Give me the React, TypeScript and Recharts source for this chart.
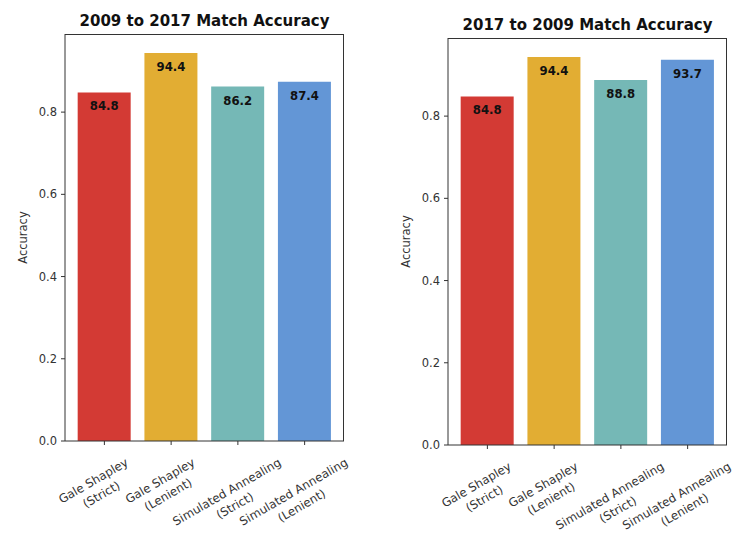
import { Bar, BarChart, Cell, LabelList, XAxis, YAxis } from "recharts";

const methods = [
  "Gale Shapley\n(Strict)",
  "Gale Shapley\n(Lenient)",
  "Simulated Annealing\n(Strict)",
  "Simulated Annealing\n(Lenient)",
];
const forward = [0.848, 0.944, 0.862, 0.874];
const backward = [0.848, 0.944, 0.888, 0.937];
const colors = ["#d33a34", "#e2ad33", "#75b8b6", "#6396d6"];
const yTicks = [0, 0.2, 0.4, 0.6, 0.8];

const FONT = "DejaVu Sans, sans-serif";
const AXIS = "#333";

// rotated, two-line category label, placed like matplotlib's rotation=30
function XTick(props: any) {
  const { x, y, payload } = props;
  const lines: string[] = String(payload.value).split("\n");
  const w = Math.max(...lines.map((l) => l.length)) * 6.3;
  const lh = 16;
  const h = lh * lines.length;
  const cy = y + 8 + 0.25 * w + 0.433 * h;
  return (
    <g transform={`translate(${x - 7},${cy}) rotate(-30)`}>
      {lines.map((l, i) => (
        <text
          key={i}
          x={0}
          y={(i - (lines.length - 1) / 2) * lh}
          textAnchor="middle"
          dominantBaseline="central"
          fontSize={11.8}
          fontFamily={FONT}
          fill={AXIS}
        >
          {l}
        </text>
      ))}
    </g>
  );
}

function YLabel(props: any) {
  const { viewBox } = props;
  const cx = viewBox.x + viewBox.width - 42;
  const cy = viewBox.y + viewBox.height / 2;
  return (
    <text
      x={cx}
      y={cy}
      transform={`rotate(-90,${cx},${cy})`}
      textAnchor="middle"
      dominantBaseline="central"
      fontSize={11.5}
      fontFamily={FONT}
      fill={AXIS}
    >
      Accuracy
    </text>
  );
}

function ValueLabel(props: any) {
  const { x, y, width, value } = props;
  return (
    <text
      x={x + width / 2}
      y={y + 14}
      textAnchor="middle"
      dominantBaseline="central"
      fontSize={11.7}
      fontWeight="bold"
      fontFamily={FONT}
      fill="#111"
    >
      {(value * 100).toFixed(1)}
    </text>
  );
}

function Panel({
  title,
  values,
  left,
  width,
  top,
  yWidth,
  right,
  bottom,
}: {
  title: string;
  values: number[];
  left: number;
  width: number;
  top: number;
  yWidth: number;
  right: number;
  bottom: number;
}) {
  const data = methods.map((m, i) => ({ name: m, v: values[i] }));
  const plotW = width - yWidth - right;
  const plotH = 550 - top - bottom;
  return (
    <div style={{ position: "absolute", left, top: 0, width, height: 550 }}>
      <div
        style={{
          position: "absolute",
          left: yWidth,
          width: plotW,
          top: top - 22,
          textAlign: "center",
          fontFamily: FONT,
          fontWeight: "bold",
          fontSize: 15,
          color: "#111",
          whiteSpace: "nowrap",
        }}
      >
        {title}
      </div>
      <BarChart
        width={width}
        height={550}
        data={data}
        margin={{ top, right, left: 0, bottom: bottom - 90 }}
        barCategoryGap="10%"
      >
        <XAxis
          dataKey="name"
          interval={0}
          height={90}
          padding={{ left: 6, right: 6 }}
          tick={<XTick />}
          tickSize={4}
          stroke={AXIS}
        />
        <YAxis
          width={yWidth}
          domain={[0, 0.99]}
          ticks={yTicks}
          tickFormatter={(v: number) => v.toFixed(1)}
          tickSize={4}
          tickMargin={4}
          stroke={AXIS}
          tick={{ fill: AXIS, fontSize: 11.5, fontFamily: FONT }}
          allowDataOverflow
          label={<YLabel />}
        />
        <Bar dataKey="v" isAnimationActive={false}>
          {data.map((_, i) => (
            <Cell key={i} fill={colors[i]} />
          ))}
          <LabelList dataKey="v" content={<ValueLabel />} />
        </Bar>
      </BarChart>
      {/* top and right spines of the axes frame */}
      <div
        style={{
          position: "absolute",
          left: yWidth,
          top,
          width: plotW,
          height: plotH,
          borderTop: `1px solid ${AXIS}`,
          borderRight: `1px solid ${AXIS}`,
          boxSizing: "border-box",
          pointerEvents: "none",
        }}
      />
    </div>
  );
}

export default function App() {
  return (
    <div
      style={{
        position: "absolute",
        left: 0,
        top: 0,
        width: 753,
        height: 550,
        background: "#fff",
      }}
    >
      <Panel
        title="2009 to 2017 Match Accuracy"
        values={forward}
        left={0}
        width={376}
        top={34}
        yWidth={65}
        right={32}
        bottom={109}
      />
      <Panel
        title="2017 to 2009 Match Accuracy"
        values={backward}
        left={376}
        width={377}
        top={38}
        yWidth={72}
        right={26}
        bottom={105}
      />
    </div>
  );
}
